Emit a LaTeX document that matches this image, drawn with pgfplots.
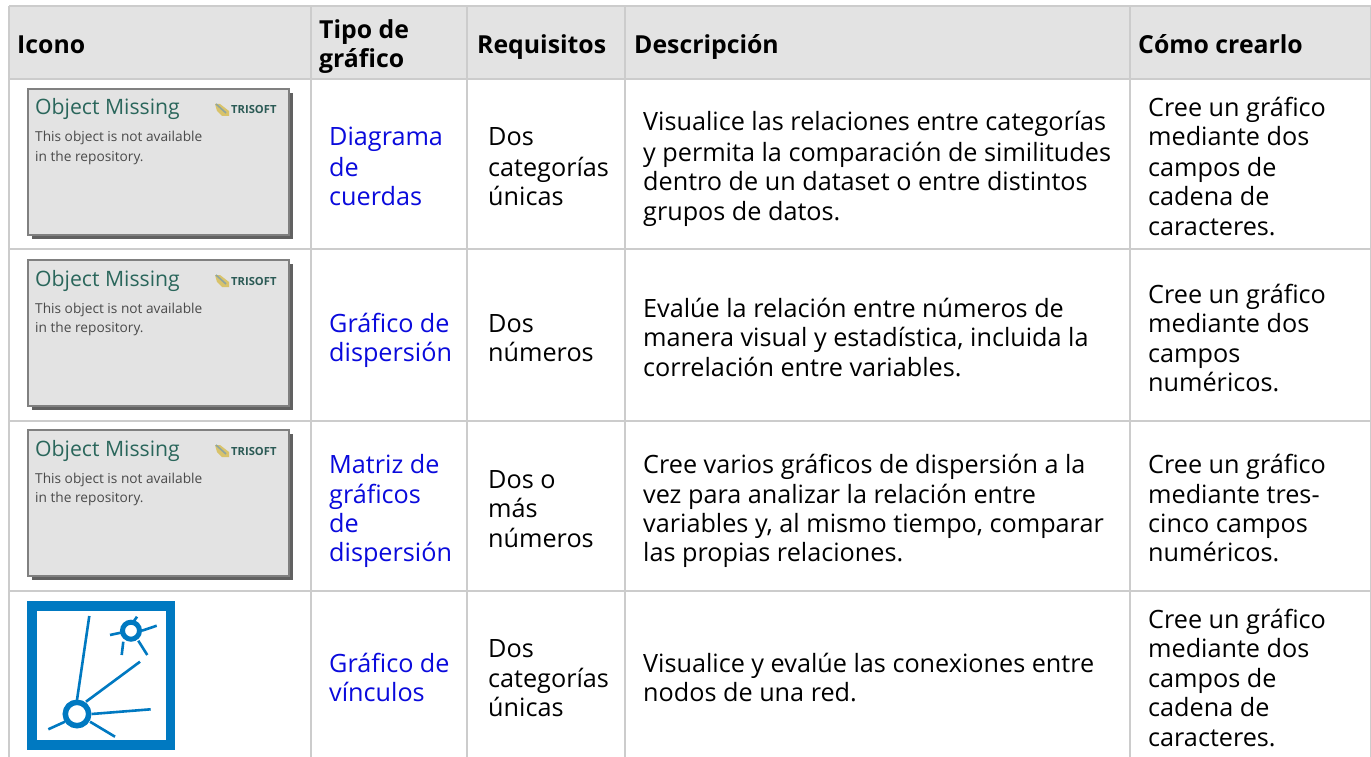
\documentclass[border=0pt]{standalone}
\usepackage{pgfplots}
\pgfplotsset{compat=1.18}
\usepackage{fontspec}
\setmainfont{Open Sans}
\definecolor{gridc}{HTML}{CCCCCC}
\definecolor{headc}{HTML}{E3E3E3}
\definecolor{linkc}{HTML}{0A0ADC}
\definecolor{iconb}{HTML}{0079C1}
\definecolor{omgreen}{HTML}{2A665B}
\definecolor{omtext}{HTML}{4A4A4A}
\definecolor{logoy}{HTML}{D9C36A}
\definecolor{logog}{HTML}{8FA5A0}
\definecolor{logot}{HTML}{2B5A55}
\newcommand\Body[3]{\node[anchor=base west,inner sep=0pt,text=black,font=\fontsize{25.2}{28}\selectfont] at (axis cs:#1,#2) {#3};}
\newcommand\Link[3]{\node[anchor=base west,inner sep=0pt,text=linkc,font=\fontsize{25.2}{28}\selectfont] at (axis cs:#1,#2) {#3};}
\newcommand\Head[3]{\node[anchor=base west,inner sep=0pt,text=black,font=\fontsize{24.8}{28}\selectfont\bfseries] at (axis cs:#1,#2) {#3};}
\newcommand\Missing[1]{%
  \addplot[fill=black!62,draw=none] coordinates {(32,#1+4) (293,#1+4) (293,#1+150) (32,#1+150)} --cycle;
  \addplot[fill=headc,draw=black!50,line width=1.3pt] coordinates {(28,#1) (289,#1) (289,#1+146) (28,#1+146)} --cycle;
  \node[anchor=base west,inner sep=0pt,text=omgreen,font=\fontsize{21.2}{24}\selectfont] at (axis cs:35,#1+26) {Object Missing};
  \node[anchor=base west,inner sep=0pt,text=omtext,font=\fontsize{13.7}{16}\selectfont] at (axis cs:35,#1+53) {This object is not available};
  \node[anchor=base west,inner sep=0pt,text=omtext,font=\fontsize{13.7}{16}\selectfont] at (axis cs:35,#1+72) {in the repository.};
  \node[anchor=base west,inner sep=0pt,text=logot,font=\fontsize{11.2}{12}\selectfont\bfseries] at (axis cs:231,#1+25) {TRISOFT};
  \addplot[fill=logoy,draw=none] coordinates {(215,#1+15) (220,#1+15) (229,#1+22) (229,#1+27) (222,#1+27) (217,#1+22)} --cycle;
  \addplot[draw=logog,line width=1.6pt] coordinates {(216,#1+15) (226,#1+24)};
}
\begin{document}
\begin{tikzpicture}
\begin{axis}[
  scale only axis,width=1371pt,height=757pt,
  xmin=0,xmax=1371,ymin=0,ymax=757,y dir=reverse,
  axis lines=none,clip=true,
  ticks=none,
]
% page background, which also fixes the picture's extent
\addplot[fill=white,draw=none] coordinates {(0,0) (1371,0) (1371,757) (0,757)} --cycle;
% header band
\addplot[fill=headc,draw=none] coordinates {(9,6) (1371,6) (1371,79) (9,79)} --cycle;
% horizontal rules
\addplot[gridc,line width=1.6pt] coordinates {(9,6) (1371,6)};
\addplot[gridc,line width=1.6pt] coordinates {(9,79) (1371,79)};
\addplot[gridc,line width=1.6pt] coordinates {(9,249) (1371,249)};
\addplot[gridc,line width=1.6pt] coordinates {(9,421) (1371,421)};
\addplot[gridc,line width=1.6pt] coordinates {(9,591) (1371,591)};
% vertical rules
\addplot[gridc,line width=1.2pt] coordinates {(9,6) (9,757)};
\addplot[gridc,line width=1.2pt] coordinates {(311,6) (311,757)};
\addplot[gridc,line width=1.2pt] coordinates {(467,6) (467,757)};
\addplot[gridc,line width=1.2pt] coordinates {(625,6) (625,757)};
\addplot[gridc,line width=1.2pt] coordinates {(1130,6) (1130,757)};
\addplot[gridc,line width=1.2pt] coordinates {(1370.4,6) (1370.4,757)};
% placeholder icons
\Missing{89}
\Missing{260}
\Missing{430}
% link icon
\addplot[fill=iconb,draw=none] coordinates {(27,601) (175,601) (175,750) (27,750)} --cycle;
\addplot[fill=white,draw=none] coordinates {(36.7,610.7) (165.7,610.7) (165.7,740) (36.7,740)} --cycle;
\addplot[iconb,line width=2.6pt] coordinates {(89.3,616) (77,700)};
\addplot[iconb,line width=2.6pt] coordinates {(140,661.7) (86,701.7)};
\addplot[iconb,line width=2.6pt] coordinates {(150.7,709.3) (91.7,714)};
\addplot[iconb,line width=2.6pt] coordinates {(115,736.7) (90,721.7)};
\addplot[iconb,line width=2.6pt] coordinates {(48.3,729.3) (65,721.7)};
\addplot[iconb,line width=2.6pt] coordinates {(137,616.7) (134,621)};
\addplot[iconb,line width=2.6pt] coordinates {(156.7,625.7) (142,630.7)};
\addplot[iconb,line width=2.6pt] coordinates {(110,635) (120.7,632.7)};
\addplot[iconb,line width=2.6pt] coordinates {(121.7,655) (123.3,641.7)};
\addplot[iconb,line width=2.6pt] coordinates {(147.3,655) (138.3,640.7)};
\addplot[only marks,mark=*,mark size=11.7pt,mark options={draw=iconb,fill=white,line width=5.5pt}] coordinates {(77,714)};
\addplot[only marks,mark=*,mark size=8.5pt,mark options={draw=iconb,fill=white,line width=5pt}] coordinates {(131,630.7)};
% header text
\Head{17}{54}{Icono}
\Head{319}{39}{Tipo de}
\Head{319}{68}{gráfico}
\Head{477}{54}{Requisitos}
\Head{634}{54}{Descripción}
\Head{1138}{54}{Cómo crearlo}
% row 1
\Link{329}{146}{Diagrama}
\Link{329}{176}{de}
\Link{329}{205}{cuerdas}
\Body{488}{146}{Dos}
\Body{488}{176}{categorías}
\Body{488}{205}{únicas}
\Body{643}{131}{Visualice las relaciones entre categorías}
\Body{643}{161}{y permita la comparación de similitudes}
\Body{643}{190}{dentro de un dataset o entre distintos}
\Body{643}{220}{grupos de datos.}
\Body{1148}{117}{Cree un gráfico}
\Body{1148}{146}{mediante dos}
\Body{1148}{176}{campos de}
\Body{1148}{205}{cadena de}
\Body{1148}{235}{caracteres.}
% row 2
\Link{329}{332}{Gráfico de}
\Link{329}{361}{dispersión}
\Body{488}{332}{Dos}
\Body{488}{361}{números}
\Body{643}{317}{Evalúe la relación entre números de}
\Body{643}{346}{manera visual y estadística, incluida la}
\Body{643}{376}{correlación entre variables.}
\Body{1148}{303}{Cree un gráfico}
\Body{1148}{332}{mediante dos}
\Body{1148}{362}{campos}
\Body{1148}{391}{numéricos.}
% row 3
\Link{329}{473}{Matriz de}
\Link{329}{503}{gráficos}
\Link{329}{532}{de}
\Link{329}{561}{dispersión}
\Body{488}{488}{Dos o}
\Body{488}{517}{más}
\Body{488}{547}{números}
\Body{643}{473}{Cree varios gráficos de dispersión a la}
\Body{643}{503}{vez para analizar la relación entre}
\Body{643}{532}{variables y, al mismo tiempo, comparar}
\Body{643}{561}{las propias relaciones.}
\Body{1148}{473}{Cree un gráfico}
\Body{1148}{503}{mediante tres-}
\Body{1148}{532}{cinco campos}
\Body{1148}{561}{numéricos.}
% row 4
\Link{329}{672}{Gráfico de}
\Link{329}{701}{vínculos}
\Body{488}{657}{Dos}
\Body{488}{687}{categorías}
\Body{488}{716}{únicas}
\Body{643}{672}{Visualice y evalúe las conexiones entre}
\Body{643}{701}{nodos de una red.}
\Body{1148}{628}{Cree un gráfico}
\Body{1148}{657}{mediante dos}
\Body{1148}{687}{campos de}
\Body{1148}{716}{cadena de}
\Body{1148}{746}{caracteres.}
\end{axis}
\end{tikzpicture}
\end{document}
